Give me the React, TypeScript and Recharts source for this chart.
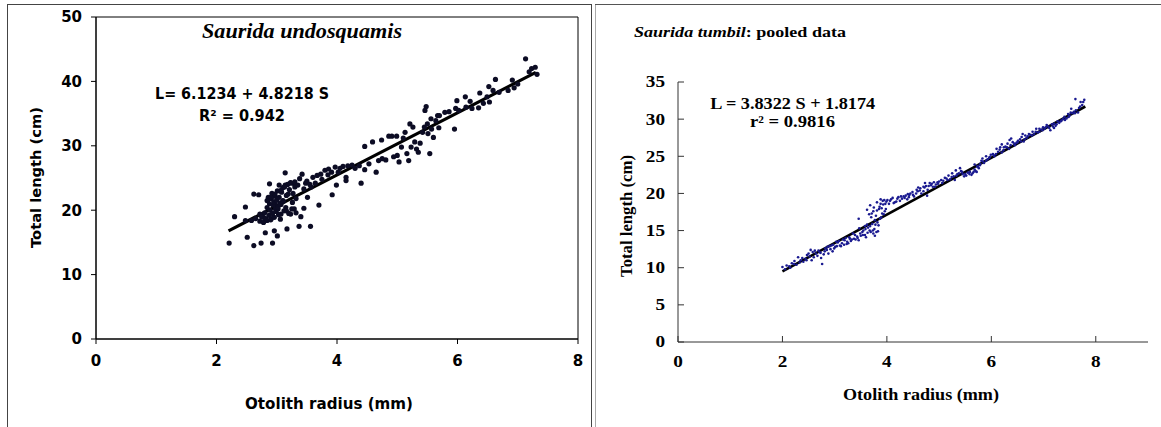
import React from 'react'
import { ScatterChart, Scatter, XAxis, YAxis, ReferenceLine, ReferenceArea } from 'recharts'

type Pt = { x: number; y: number }
const toPts = (rows: number[][]): Pt[] => rows.map(([x, y]) => ({ x, y }))

// Saurida undosquamis (left panel)
const UNDO_X_TICKS = [0, 2, 4, 6, 8]
const UNDO_Y_TICKS = [0, 10, 20, 30, 40, 50]
const UNDO_FIT = [[2.2, 16.8], [7.3, 41.4]]
const UNDO_POINTS = [
  [2.21, 14.9], [2.3, 19.0], [2.48, 20.5], [2.51, 15.8], [2.48, 18.4], [2.62, 14.5], [2.74, 14.9], [2.93, 14.9],
  [3.01, 16.0], [2.81, 16.5], [2.62, 22.5], [2.7, 22.4], [2.88, 24.1], [3.14, 25.8], [3.17, 17.1], [3.37, 17.5],
  [3.56, 17.5], [3.4, 19.0], [3.45, 20.3], [3.7, 20.8], [3.92, 22.4], [3.99, 23.9], [4.4, 24.2],
  [2.58, 18.4], [2.65, 18.7], [2.72, 19.4], [2.78, 18.9], [2.84, 18.4], [2.96, 16.8], [3.07, 19.4], [3.16, 19.9],
  [3.23, 19.4], [3.29, 20.2], [2.97, 21.0], [3.02, 20.2], [2.91, 18.7], [3.1, 21.5], [3.26, 21.2], [3.19, 22.5],
  [3.32, 21.8], [3.04, 23.9], [2.72, 18.3], [2.75, 19.0], [2.78, 18.1], [2.8, 19.6], [2.82, 18.7], [2.84, 20.4],
  [2.85, 21.5], [2.86, 22.0], [2.87, 19.2], [2.88, 21.0], [2.89, 20.0], [2.9, 18.5], [2.91, 21.8], [2.92, 22.6],
  [2.93, 19.5], [2.94, 20.8], [2.95, 21.3], [2.96, 18.9], [2.97, 22.2], [2.98, 20.2], [2.99, 19.8], [3.0, 21.6],
  [3.01, 23.0], [3.02, 20.5], [3.03, 19.3], [3.04, 22.0], [3.05, 21.1], [3.06, 18.6], [3.07, 20.9], [3.08, 22.8],
  [3.1, 23.5], [3.11, 21.4], [3.12, 19.9], [3.14, 23.9], [3.15, 20.4], [3.16, 22.3], [3.18, 24.0], [3.2, 19.5],
  [3.21, 23.2], [3.23, 24.3], [3.25, 20.2], [3.27, 22.6], [3.29, 24.1], [3.3, 23.6], [3.32, 19.6],
  [2.84, 21.5], [2.9, 22.0], [2.97, 22.5], [3.07, 23.1], [3.13, 23.6], [3.23, 24.2], [3.3, 24.4], [3.38, 24.9],
  [3.42, 25.6], [3.48, 24.2], [3.51, 22.0], [3.57, 23.6], [3.64, 24.2], [3.67, 25.4], [3.73, 25.6], [3.8, 26.2],
  [3.86, 26.4], [3.91, 25.9], [3.97, 26.7], [4.02, 25.9], [4.1, 26.8], [4.15, 24.6], [4.15, 25.1], [4.18, 26.9],
  [3.5, 24.5], [3.6, 25.1], [3.75, 24.8], [3.85, 25.5], [4.05, 26.5], [4.25, 27.0], [4.3, 26.5], [3.55, 24.0],
  [3.45, 23.3], [3.35, 23.9],
  [4.37, 26.9], [4.46, 26.3], [4.46, 29.9], [4.53, 27.2], [4.59, 30.6], [4.65, 25.9], [4.69, 27.7], [4.74, 30.9],
  [4.75, 28.0], [4.81, 27.8], [4.86, 31.5], [4.91, 31.5], [4.94, 28.3], [4.99, 31.5], [5.0, 28.5], [5.03, 27.5],
  [5.07, 29.8], [5.1, 31.2], [5.13, 32.1], [5.16, 28.8], [5.19, 27.7], [5.21, 33.4], [5.23, 29.8], [5.26, 32.9],
  [5.29, 30.6], [5.32, 29.5], [5.35, 29.0], [5.38, 30.4], [5.42, 32.1], [5.45, 32.9], [5.46, 35.5], [5.48, 36.1],
  [5.5, 33.4], [5.51, 31.9], [5.54, 28.8], [5.56, 34.2], [5.57, 32.6], [5.6, 31.3], [5.64, 33.9], [5.67, 34.7],
  [5.69, 32.8], [5.7, 34.7], [5.79, 35.2], [5.86, 35.3], [5.95, 32.6], [5.97, 35.8], [5.99, 37.0], [6.02, 35.5],
  [6.13, 37.6], [6.14, 36.0], [6.21, 36.9], [6.24, 35.8], [6.35, 35.9], [6.37, 38.2], [6.43, 36.6], [6.49, 37.6],
  [6.52, 39.2], [6.53, 36.8], [6.59, 38.6], [6.63, 40.3], [6.69, 38.3], [6.84, 38.6], [6.91, 40.2], [6.94, 39.0],
  [7.0, 39.6], [7.13, 43.5], [7.19, 41.5], [7.23, 42.0], [7.29, 42.2], [7.32, 41.1],
]

// Saurida tumbil pooled (right panel)
const TUMBIL_X_TICKS = [0, 2, 4, 6, 8]
const TUMBIL_Y_TICKS = [0, 5, 10, 15, 20, 25, 30, 35]
const TUMBIL_FIT = [[2.0, 9.5], [7.8, 31.7]]
const TUMBIL_POINTS = [
  [2.0, 10.1], [2.13, 10.2], [2.23, 10.9], [2.3, 11.4], [2.4, 10.8], [2.47, 11.7], [2.54, 12.4], [2.6, 11.4],
  [2.64, 11.9], [2.71, 12.1], [2.76, 10.5], [2.82, 12.6], [2.88, 11.9], [2.94, 13.0], [2.99, 12.6], [3.03, 13.5],
  [3.1, 13.0], [3.16, 13.8], [3.23, 13.2], [3.29, 13.9], [3.35, 14.6], [3.4, 13.8], [3.47, 15.3], [3.53, 14.8],
  [3.58, 14.4], [3.62, 15.8], [3.67, 15.0], [3.71, 17.3], [3.74, 14.6], [3.77, 16.4], [3.81, 17.7], [3.84, 15.7],
  [3.88, 18.6], [3.91, 17.3], [3.95, 19.1], [3.98, 17.9], [4.01, 19.1], [4.08, 19.2], [4.15, 18.8], [4.22, 19.5],
  [4.29, 19.3], [4.36, 19.7], [4.42, 19.5], [4.49, 20.2], [4.56, 20.0], [4.63, 20.4], [4.7, 20.9], [4.73, 21.4],
  [4.77, 19.7], [4.84, 21.1], [4.9, 21.5], [4.97, 21.5], [5.04, 21.8], [5.11, 22.1], [5.18, 22.4], [5.25, 22.7],
  [5.32, 23.1], [5.38, 22.7], [5.45, 22.6], [5.52, 22.4], [5.59, 22.9], [5.66, 22.9], [5.73, 23.6], [5.79, 24.0],
  [5.83, 24.7], [5.9, 25.0], [5.97, 24.9], [6.03, 25.3], [6.1, 26.0], [6.17, 26.2], [6.24, 26.2], [6.31, 26.7],
  [6.38, 27.4], [6.45, 26.5], [6.51, 27.1], [6.58, 27.6], [6.65, 27.8], [6.72, 28.0], [6.79, 28.3], [6.86, 28.7],
  [6.92, 28.7], [6.99, 28.9], [7.06, 29.2], [7.13, 28.5], [7.2, 29.4], [7.27, 29.7], [7.34, 29.8], [7.4, 30.3],
  [7.47, 30.7], [7.53, 31.4], [7.58, 31.0], [7.61, 32.7], [7.71, 32.3], [7.78, 32.6],
  [2.05, 9.8], [2.18, 10.6], [2.27, 10.4], [2.35, 11.0], [2.44, 11.2], [2.5, 11.9], [2.56, 11.0], [2.62, 12.3],
  [2.67, 11.6], [2.73, 12.0], [2.79, 11.8], [2.85, 12.4], [2.9, 12.9], [2.96, 12.2], [3.01, 12.8], [3.06, 13.4],
  [3.12, 12.9], [3.18, 13.1], [3.21, 14.0], [3.26, 13.3], [3.31, 13.6], [3.37, 13.9], [3.43, 14.2], [3.46, 13.7],
  [3.5, 14.3], [3.55, 15.0], [3.6, 14.1], [3.64, 15.4], [3.69, 14.8], [3.72, 15.9], [3.76, 15.2], [3.79, 17.0],
  [3.82, 16.1], [3.86, 18.2], [3.89, 16.8], [3.93, 18.5], [3.96, 17.6], [3.99, 18.9], [3.7, 16.8], [3.66, 17.2],
  [3.74, 17.6], [3.85, 17.9], [3.92, 19.0], [3.8, 14.8], [3.77, 14.3], [3.58, 15.6], [3.46, 16.6],
  [4.04, 18.6], [4.11, 19.4], [4.18, 18.9], [4.25, 19.0], [4.32, 19.6], [4.39, 19.2], [4.45, 20.0], [4.52, 19.6],
  [4.59, 20.3], [4.66, 20.0], [4.72, 20.8], [4.78, 20.5], [4.82, 21.4], [4.88, 20.9], [4.94, 21.2], [5.0, 21.6],
  [4.75, 21.0], [4.6, 20.8], [4.4, 19.9],
  [5.06, 21.4], [5.14, 22.0], [5.21, 21.9], [5.28, 22.3], [5.35, 22.6], [5.42, 23.0], [5.48, 22.3], [5.55, 22.8],
  [5.62, 22.5], [5.68, 23.2], [5.72, 22.9], [5.76, 23.4], [5.81, 24.4], [5.86, 24.1], [5.93, 24.6], [5.99, 25.2],
  [5.4, 23.4], [5.3, 21.8], [5.68, 23.9],
  [6.06, 25.0], [6.13, 25.6], [6.2, 25.5], [6.27, 26.3], [6.34, 26.0], [6.41, 26.9], [6.48, 26.8], [6.55, 27.3],
  [6.62, 27.0], [6.68, 27.5], [6.75, 27.9], [6.82, 28.0], [6.89, 28.2], [6.96, 28.6], [6.2, 26.6], [6.35, 27.2],
  [6.6, 28.0],
  [7.02, 28.7], [7.09, 29.0], [7.16, 29.3], [7.23, 29.1], [7.3, 29.5], [7.37, 30.0], [7.44, 30.1], [7.5, 30.5],
  [7.55, 30.8], [7.62, 31.2], [7.68, 31.5], [7.74, 31.9], [7.66, 30.9], [7.2, 28.8],
  [2.08, 10.3], [2.15, 10.0], [2.22, 10.5], [2.33, 10.7], [2.38, 11.3], [2.46, 11.0], [2.52, 11.5], [2.58, 12.1],
  [2.69, 12.3], [2.74, 11.3], [2.81, 12.2], [2.86, 12.8], [2.92, 12.5], [2.97, 13.1],
  [3.04, 12.9], [3.08, 13.6], [3.14, 13.3], [3.19, 13.7], [3.24, 13.5], [3.28, 14.1], [3.33, 13.8], [3.39, 14.4],
  [3.44, 14.0], [3.49, 14.6], [3.54, 14.4], [3.59, 15.2], [3.63, 14.7], [3.68, 15.6], [3.73, 15.0], [3.78, 15.8],
  [3.83, 14.9], [3.87, 16.6], [3.9, 18.0], [3.94, 17.2], [3.97, 18.6], [3.75, 18.1], [3.81, 18.8], [3.88, 19.2],
  [3.68, 18.4], [3.62, 17.8],
  [4.06, 19.0], [4.13, 18.7], [4.2, 19.3], [4.27, 19.6], [4.34, 19.4], [4.43, 19.8], [4.5, 19.8], [4.57, 20.5],
  [4.64, 20.7], [4.7, 20.3], [4.8, 21.0], [4.86, 21.3], [4.92, 20.9], [4.98, 21.3],
  [5.08, 21.7], [5.16, 21.8], [5.24, 22.2], [5.33, 22.4], [5.44, 22.9], [5.5, 22.6], [5.58, 22.6], [5.64, 22.7],
  [5.7, 23.0], [5.74, 23.7], [5.78, 23.8], [5.84, 24.3], [5.9, 24.4], [5.96, 24.8],
  [6.04, 25.2], [6.09, 25.3], [6.16, 25.9], [6.23, 25.8], [6.3, 26.2], [6.37, 26.5], [6.44, 26.7], [6.5, 26.9],
  [6.57, 27.0], [6.64, 27.3], [6.7, 27.7], [6.78, 27.8], [6.85, 28.3], [6.92, 28.3], [6.98, 28.5],
  [7.04, 28.9], [7.11, 28.8], [7.18, 29.0], [7.25, 29.3], [7.33, 29.7], [7.41, 29.9], [7.48, 30.3], [7.52, 30.9],
  [7.6, 30.8], [7.7, 31.7], [7.76, 32.3],
]

const SANS = 'DejaVu Sans'
const SERIF = 'Liberation Serif'

const undoTick = { fontFamily: SANS, fontWeight: 700, fontSize: 15, fill: '#000' }

// Times-like ticks, widened a little like the source image
function SerifTick(props: any) {
  const { x, y, payload, textAnchor, dyEm } = props
  return (
    <g transform={`translate(${x},${y}) scale(1.2,1)`}>
      <text textAnchor={textAnchor} dy={dyEm} fontFamily={SERIF} fontWeight={700} fontSize={16} fill="#000">
        {payload.value}
      </text>
    </g>
  )
}

const fitSegment = (rows: number[][]) => rows.map(([x, y]) => ({ x, y }))

function UndoChart() {
  return (
    <ScatterChart width={594} height={427} margin={{ top: 17, right: 16, bottom: 58, left: 36 }}>
      <XAxis
        type="number"
        dataKey="x"
        domain={[0, 8]}
        ticks={UNDO_X_TICKS}
        height={30}
        tick={undoTick}
        tickSize={5}
        tickMargin={11}
        axisLine={{ stroke: '#000' }}
        tickLine={{ stroke: '#000' }}
      />
      <YAxis
        type="number"
        dataKey="y"
        domain={[0, 50]}
        ticks={UNDO_Y_TICKS}
        width={60}
        tick={undoTick}
        tickSize={5}
        tickMargin={9}
        axisLine={{ stroke: '#000' }}
        tickLine={{ stroke: '#000' }}
      />
      <ReferenceArea x1={0} x2={8} y1={0} y2={50} fill="none" stroke="#000" strokeWidth={1} />
      <Scatter
        data={toPts(UNDO_POINTS)}
        isAnimationActive={false}
        shape={(p: any) => <circle cx={p.cx} cy={p.cy} r={2.6} fill="#0c0c24" />}
      />
      <ReferenceLine segment={fitSegment(UNDO_FIT)} stroke="#000" strokeWidth={3.2} />
    </ScatterChart>
  )
}

function TumbilChart() {
  return (
    <ScatterChart width={567} height={427} margin={{ top: 82, right: 13, bottom: 55, left: 24 }}>
      <XAxis
        type="number"
        dataKey="x"
        domain={[0, 9]}
        ticks={TUMBIL_X_TICKS}
        height={30}
        tick={(p: any) => <SerifTick {...p} dyEm="0.71em" />}
        tickSize={-6}
        tickMargin={20}
        axisLine={{ stroke: '#333' }}
        tickLine={{ stroke: '#333' }}
      />
      <YAxis
        type="number"
        dataKey="y"
        domain={[0, 35]}
        ticks={TUMBIL_Y_TICKS}
        width={60}
        tick={(p: any) => <SerifTick {...p} dyEm="0.34em" />}
        tickSize={-6}
        tickMargin={19}
        axisLine={{ stroke: '#333' }}
        tickLine={{ stroke: '#333' }}
      />
      <Scatter
        data={toPts(TUMBIL_POINTS)}
        isAnimationActive={false}
        shape={(p: any) => <circle cx={p.cx} cy={p.cy} r={1.3} fill="#1a1a90" />}
      />
      <ReferenceLine segment={fitSegment(TUMBIL_FIT)} stroke="#000" strokeWidth={2.6} />
    </ScatterChart>
  )
}

export default function App() {
  return (
    <div style={{ position: 'absolute', left: 0, top: 0, width: 1161, height: 427, background: '#fff', overflow: 'hidden' }}>
      <div style={{ position: 'absolute', left: 0, top: 0 }}>
        <UndoChart />
      </div>
      <div style={{ position: 'absolute', left: 594, top: 0 }}>
        <TumbilChart />
      </div>
      <svg width={1161} height={427} style={{ position: 'absolute', left: 0, top: 0, pointerEvents: 'none' }}>
        {/* panel frames */}
        <rect x={7.5} y={4.5} width={584} height={440} fill="none" stroke="#444" />
        <line x1={595.5} y1={4.5} x2={595.5} y2={427} stroke="#aaa" />
        <line x1={595} y1={4.5} x2={1161} y2={4.5} stroke="#555" />

        {/* left panel text */}
        <text x={302} y={38} textAnchor="middle" fontFamily={SERIF} fontStyle="italic" fontWeight={700} fontSize={20}
          textLength={200} lengthAdjust="spacingAndGlyphs">Saurida undosquamis</text>
        <text x={242} y={99} textAnchor="middle" fontFamily={SANS} fontWeight={700} fontSize={15}
          textLength={174} lengthAdjust="spacingAndGlyphs">L= 6.1234 + 4.8218 S</text>
        <text x={242} y={120.5} textAnchor="middle" fontFamily={SANS} fontWeight={700} fontSize={15}
          textLength={86} lengthAdjust="spacingAndGlyphs">R² = 0.942</text>
        <text transform="translate(36,177.5) rotate(-90)" textAnchor="middle" dy="0.36em" fontFamily={SANS}
          fontWeight={700} fontSize={14.5} textLength={141} lengthAdjust="spacingAndGlyphs">Total length (cm)</text>
        <text x={329} y={409} textAnchor="middle" fontFamily={SANS} fontWeight={700} fontSize={15}
          textLength={168} lengthAdjust="spacingAndGlyphs">Otolith radius (mm)</text>

        {/* right panel text */}
        <text x={634} y={37} fontFamily={SERIF} fontWeight={700} fontSize={15} textLength={212}
          lengthAdjust="spacingAndGlyphs">
          <tspan fontStyle="italic">Saurida tumbil</tspan>: pooled data
        </text>
        <text x={792.7} y={108.5} textAnchor="middle" fontFamily={SERIF} fontWeight={700} fontSize={16.5}
          textLength={165} lengthAdjust="spacingAndGlyphs">L = 3.8322 S + 1.8174</text>
        <text x={792.5} y={126.7} textAnchor="middle" fontFamily={SERIF} fontWeight={700} fontSize={16.5}
          textLength={85} lengthAdjust="spacingAndGlyphs">r² = 0.9816</text>
        <text transform="translate(627.5,216) rotate(-90)" textAnchor="middle" dy="0.3em" fontFamily={SERIF}
          fontWeight={700} fontSize={16.5} textLength={122} lengthAdjust="spacingAndGlyphs">Total length (cm)</text>
        <text x={921} y={400} textAnchor="middle" fontFamily={SERIF} fontWeight={700} fontSize={17}
          textLength={156} lengthAdjust="spacingAndGlyphs">Otolith radius (mm)</text>
      </svg>
    </div>
  )
}
